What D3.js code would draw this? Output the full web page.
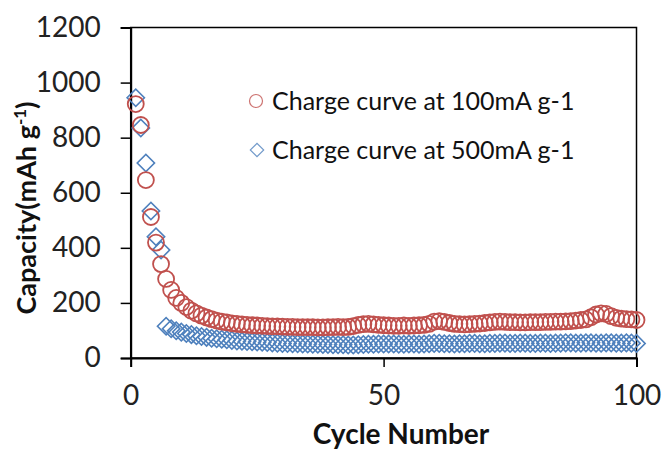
<!DOCTYPE html>
<html>
<head>
<meta charset="utf-8">
<script src="https://cdn.jsdelivr.net/npm/d3@7"></script>
<style>
  body { margin: 0; background: #fff; }
  text { font-family: Lato, "Open Sans", sans-serif; }
</style>
</head>
<body>
<script>
// cycle numbers 1..100
const cycles = d3.range(1, 101);

// charge capacity at 100 mA g-1 (red circles)
const charge100 = [
  922, 846, 646, 512, 419, 341, 287, 247, 218, 200,
  185, 172, 162, 154, 147, 141, 136, 132, 129, 126,
  124, 122, 120, 119, 118, 117, 116, 115, 115, 114,
  113, 113, 112, 112, 112, 112, 111, 111, 112, 112,
  113, 112, 113, 116, 120, 123, 124, 122, 120, 119,
  118, 117, 117, 118, 117, 118, 119, 120, 124, 132,
  134, 131, 127, 124, 123, 122, 123, 124, 125, 127,
  129, 131, 132, 131, 130, 130, 129, 129, 130, 130,
  130, 131, 131, 132, 132, 133, 134, 136, 138, 140,
  148, 158, 162, 160, 152, 146, 143, 141, 140, 138
];

// charge capacity at 500 mA g-1 (blue diamonds)
const charge500 = [
  945, 835, 708, 534, 440, 392, 115, 106, 99, 94,
  89, 85, 81, 78, 75, 72, 70, 68, 66, 64,
  62, 61, 60, 59, 58, 57, 56, 55, 54, 53,
  53, 52, 52, 51, 51, 50, 50, 49, 49, 48,
  48, 48, 47, 47, 48, 49, 50, 50, 51, 51,
  51, 51, 50, 50, 51, 51, 50, 51, 52, 53,
  53, 52, 52, 51, 52, 52, 53, 53, 52, 52,
  53, 53, 54, 54, 53, 53, 54, 54, 53, 53,
  54, 54, 53, 54, 54, 55, 55, 54, 54, 55,
  55, 54, 54, 55, 55, 54, 54, 55, 54, 53
];

const xTicks = [0, 50, 100];
const yTicks = [0, 200, 400, 600, 800, 1000, 1200];
const legendLabels = ["Charge curve at 100mA g-1", "Charge curve at 500mA g-1"];

const red = "#C0504D", blue = "#4F81BD";
const width = 665, height = 452;
const margin = {top: 27.5, right: 28.5, bottom: 94, left: 130.7};

const svg = d3.select("body").append("svg")
  .attr("width", width)
  .attr("height", height);

const x = d3.scaleLinear().domain([0, 100]).range([margin.left, width - margin.right]);
const y = d3.scaleLinear().domain([0, 1200]).range([height - margin.bottom, margin.top]);

// plot frame (top + right)
svg.append("rect")
  .attr("x", x(0)).attr("y", y(1200))
  .attr("width", x(100) - x(0)).attr("height", y(0) - y(1200))
  .attr("fill", "none").attr("stroke", "#000").attr("stroke-width", 1.5);

// axes
const yAxis = svg.append("g")
  .attr("transform", `translate(${x(0)},0)`)
  .call(d3.axisLeft(y).tickValues(yTicks).tickFormat(d3.format("d")).tickSize(10).tickPadding(20));
const xAxis = svg.append("g")
  .attr("transform", `translate(0,${y(0)})`)
  .call(d3.axisBottom(x).tickValues(xTicks).tickFormat(d3.format("d")).tickSize(9).tickPadding(18));

[yAxis, xAxis].forEach(a => {
  a.select(".domain").attr("stroke", "#000").attr("stroke-width", 2);
  a.selectAll(".tick line").attr("stroke", "#000").attr("stroke-width", 1.5);
  a.selectAll(".tick text").attr("font-size", 28).attr("fill", "#222")
    .attr("font-family", "Lato, sans-serif");
});

// series
const diamond = d3.symbol().type(d3.symbolSquare).size(150);

svg.append("g").selectAll("path")
  .data(cycles)
  .join("path")
    .attr("d", diamond)
    .attr("transform", (d, i) => `translate(${x(d)},${y(charge500[i])}) rotate(45)`)
    .attr("fill", "none")
    .attr("stroke", blue)
    .attr("stroke-width", 1.6);

svg.append("g").selectAll("circle")
  .data(cycles)
  .join("circle")
    .attr("cx", d => x(d))
    .attr("cy", (d, i) => y(charge100[i]))
    .attr("r", 8)
    .attr("fill", "none")
    .attr("stroke", red)
    .attr("stroke-width", 1.8);

// legend
const lg = svg.append("g");
lg.append("circle").attr("cx", 256).attr("cy", 101).attr("r", 6.5)
  .attr("fill", "none").attr("stroke", red).attr("stroke-width", 1.2).attr("opacity", 0.8);
lg.append("path").attr("d", d3.symbol().type(d3.symbolSquare).size(90))
  .attr("transform", "translate(257,150) rotate(45)")
  .attr("fill", "none").attr("stroke", blue).attr("stroke-width", 1.2).attr("opacity", 0.8);
lg.selectAll("text")
  .data(legendLabels)
  .join("text")
    .attr("x", 272)
    .attr("y", (d, i) => 110 + i * 49)
    .attr("font-size", 25)
    .attr("fill", "#111")
    .text(d => d);

// axis titles
svg.append("text")
  .attr("x", 401).attr("y", 444)
  .attr("text-anchor", "middle")
  .attr("font-size", 28).attr("font-weight", "bold").attr("fill", "#111")
  .text("Cycle Number");

const yt = svg.append("text")
  .attr("transform", "translate(36,208) rotate(-90)")
  .attr("text-anchor", "middle")
  .attr("font-size", 27).attr("font-weight", "bold").attr("fill", "#111");
yt.append("tspan").text("Capacity(mAh g");
yt.append("tspan").attr("dy", -10).attr("font-size", 17).text("-1");
yt.append("tspan").attr("dy", 10).text(")");
</script>
</body>
</html>
